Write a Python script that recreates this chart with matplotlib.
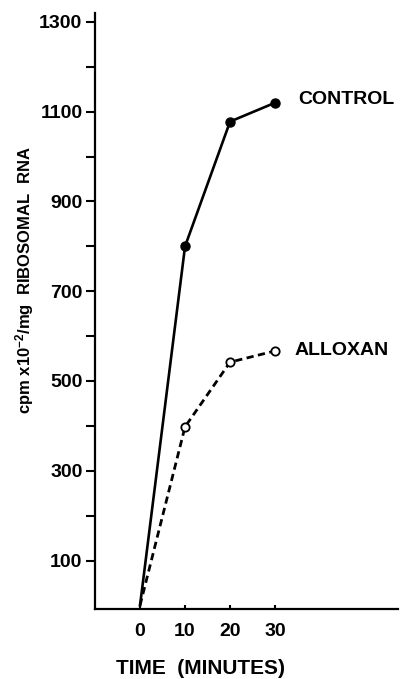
import matplotlib; matplotlib.use("Agg")
import matplotlib.pyplot as plt

# values
time_min = [0, 10, 20, 30]
control = [0, 800, 1078, 1120]
alloxan = [0, 398, 542, 567]
xticks = [0, 10, 20, 30]
yticks_major = [100, 300, 500, 700, 900, 1100, 1300]
yticks_minor = [200, 400, 600, 800, 1000, 1200]

plt.rcParams['font.family'] = ['Liberation Sans', 'DejaVu Sans']
plt.rcParams['font.weight'] = 'bold'
plt.rcParams['mathtext.fontset'] = 'custom'
plt.rcParams['mathtext.rm'] = 'Liberation Sans:bold'
plt.rcParams['mathtext.it'] = 'Liberation Sans:bold'
plt.rcParams['mathtext.bf'] = 'Liberation Sans:bold'

fig = plt.figure(figsize=(4.0, 6.79), dpi=100)
ax = fig.add_axes([0.2375, 0.1031, 0.7575, 0.8778])

# control: solid line, filled markers (no marker at origin)
ax.plot(time_min, control, "-", color="black", lw=1.9, zorder=3)
ax.plot(time_min[1:], control[1:], "o", color="black", ms=6.5, zorder=4)
# alloxan: dashed line, open markers
ax.plot(time_min, alloxan, color="black", lw=2.0, ls=(0, (2.6, 1.6)), zorder=3)
ax.plot(time_min[1:], alloxan[1:], "o", color="black", ms=6, mfc="white",
        mec="black", mew=1.3, zorder=4)

ax.text(35.1, 1128, "CONTROL", fontsize=14, fontweight="bold", va="center", ha="left")
ax.text(34.4, 567, "ALLOXAN", fontsize=14, fontweight="bold", va="center", ha="left")

ax.set_xlim(-10, 57.3)
ax.set_ylim(-8, 1320)
ax.set_xticks(xticks)
ax.set_xticklabels([str(v) for v in xticks])
ax.set_yticks(yticks_major)
ax.set_yticklabels([str(v) for v in yticks_major])
ax.set_yticks(yticks_minor, minor=True)

for s in ("top", "right"):
    ax.spines[s].set_visible(False)
for s in ("left", "bottom"):
    ax.spines[s].set_linewidth(1.6)

ax.tick_params(axis="y", which="both", direction="out", length=6.5, width=1.5,
               pad=2.5, labelsize=14)
ax.tick_params(axis="x", which="both", direction="in", length=3, width=1.5,
               pad=10, labelsize=14)
for lab in ax.get_xticklabels() + ax.get_yticklabels():
    lab.set_fontweight("bold")

fig.text(0.0625, 0.588, "cpm x10$^{-2}$/mg  RIBOSOMAL  RNA", rotation=90,
         fontsize=12, fontweight="bold", ha="center", va="center")
fig.text(0.5025, 1 - 669 / 679, "TIME  (MINUTES)", fontsize=15, fontweight="bold",
         ha="center", va="center")

fig.savefig("out.png", dpi=100)
